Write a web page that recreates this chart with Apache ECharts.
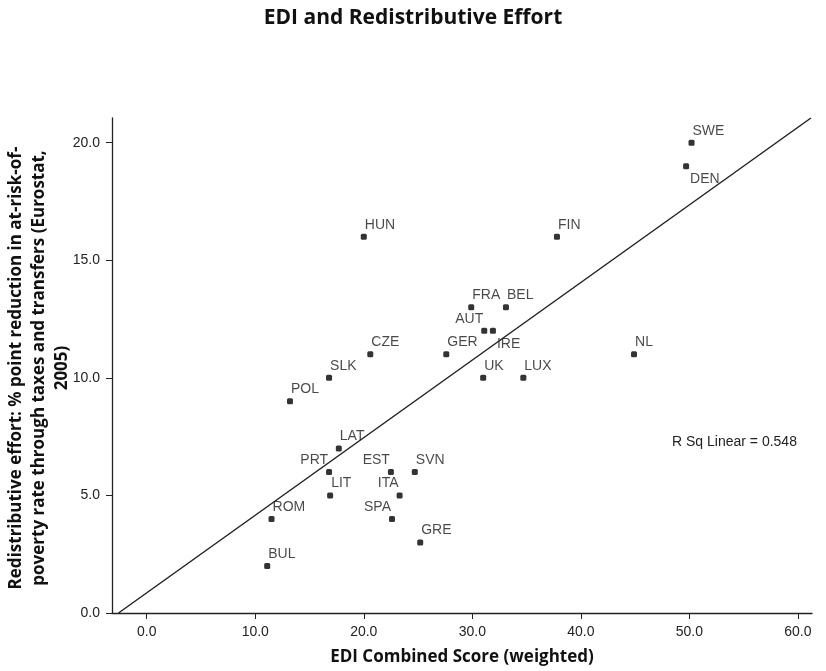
<!DOCTYPE html>
<html lang="en">
<head>
    <meta charset="UTF-8">
    <title>EDI and Redistributive Effort</title>
    <script src="https://cdn.jsdelivr.net/npm/echarts@6/dist/echarts.min.js"></script>
    <style>
        html, body { margin: 0; padding: 0; background: #fff; }
    </style>
</head>
<body>
    <div id="main" style="width: 826px;height:671px;"></div>
    <script type="text/javascript">
        // countries, EDI combined score (x) and redistributive effort (y)
        const countries = ['SWE', 'DEN', 'FIN', 'HUN', 'FRA', 'BEL', 'AUT', 'IRE', 'CZE', 'GER', 'NL',
            'SLK', 'UK', 'LUX', 'POL', 'LAT', 'PRT', 'EST', 'SVN', 'LIT', 'ITA', 'ROM', 'SPA', 'GRE', 'BUL'];
        const ediScore = [50.2, 49.7, 37.8, 20.0, 29.9, 33.1, 31.1, 31.9, 20.6, 27.6, 44.9,
            16.8, 31.0, 34.7, 13.2, 17.7, 16.8, 22.5, 24.7, 16.9, 23.3, 11.5, 22.6, 25.2, 11.1];
        const redistEffort = [20, 19, 16, 16, 13, 13, 12, 12, 11, 11, 11,
            10, 10, 10, 9, 7, 6, 6, 6, 5, 5, 4, 4, 3, 2];

        // fit line (ends at the plot edges)
        const fitX = [-2.6, 61.2];
        const fitY = [0, 21.05];
        const rSquared = 0.548;

        const xTicks = [0, 10, 20, 30, 40, 50, 60];
        const yTicks = [0, 5, 10, 15, 20];

        // which side of the point the label sits on (default top right)
        const labelSide = {PRT: 'tl', EST: 'tl', ITA: 'tl', SPA: 'tl', AUT: 'tl', DEN: 'br', IRE: 'br'};
        const sideStyle = {
            tr: {position: [4, -9], align: 'left'},
            tl: {position: [2, -9], align: 'right'},
            br: {position: [7, 16], align: 'left'},
        };

        const points = countries.map((c, i) => {
            let s = sideStyle[labelSide[c] || 'tr'];
            return {
                name: c,
                value: [ediScore[i], redistEffort[i]],
                label: {position: s.position, align: s.align},
            };
        });

        var myChart = echarts.init(document.getElementById('main'));

        const tickFont = {fontFamily: 'Liberation Sans', fontSize: 14, color: '#222'};

        let option = {
            animation: false,
            title: {
                text: 'EDI and Redistributive Effort',
                left: 'center',
                top: 3,
                textStyle: {fontFamily: 'Open Sans', fontWeight: 'bold', fontSize: 21, color: '#111'},
            },
            grid: {left: 112, right: 14, top: 118, bottom: 58},
            xAxis: {
                type: 'value',
                min: -3.2,
                max: 61.3,
                name: 'EDI Combined Score (weighted)',
                nameLocation: 'middle',
                nameGap: 36,
                nameTextStyle: {fontFamily: 'Open Sans', fontWeight: 'bold', fontSize: 17, color: '#111'},
                splitLine: {show: false},
                axisLine: {onZero: false, lineStyle: {color: '#222', width: 1.3}},
                axisTick: {length: 6, customValues: xTicks, lineStyle: {color: '#222'}},
                axisLabel: Object.assign({margin: 12, customValues: xTicks, formatter: v => v.toFixed(1)}, tickFont),
            },
            yAxis: {
                type: 'value',
                min: 0,
                max: 21.05,
                splitLine: {show: false},
                axisLine: {show: true, onZero: false, lineStyle: {color: '#222', width: 1.3}},
                axisTick: {show: true, length: 6, customValues: yTicks, lineStyle: {color: '#222'}},
                axisLabel: Object.assign({margin: 12, customValues: yTicks, formatter: v => v.toFixed(1)}, tickFont),
            },
            graphic: [
                {
                    type: 'text',
                    x: 39,
                    y: 368,
                    rotation: Math.PI / 2,
                    style: {
                        text: 'Redistributive effort: % point reduction in at-risk-of-\npoverty rate through taxes and transfers (Eurostat,\n2005)',
                        align: 'center',
                        verticalAlign: 'middle',
                        lineHeight: 23,
                        font: 'bold 17px "Open Sans"',
                        fill: '#111',
                    },
                },
                {
                    type: 'text',
                    x: 672,
                    y: 442,
                    style: {
                        text: 'R Sq Linear = ' + rSquared.toFixed(3),
                        align: 'left',
                        verticalAlign: 'middle',
                        font: '14px "Liberation Sans"',
                        fill: '#222',
                    },
                },
            ],
            series: [
                {
                    name: 'fit',
                    type: 'line',
                    silent: true,
                    symbol: 'none',
                    lineStyle: {color: '#222', width: 1.5},
                    data: fitX.map((x, i) => [x, fitY[i]]),
                },
                {
                    name: 'countries',
                    type: 'scatter',
                    symbol: 'roundRect',
                    symbolSize: 6,
                    itemStyle: {color: '#000'},
                    label: {
                        show: true,
                        formatter: p => p.name,
                        verticalAlign: 'middle',
                        fontFamily: 'Liberation Sans',
                        fontSize: 14,
                        color: '#1a1a1a',
                    },
                    data: points,
                },
            ],
        };

        myChart.setOption(option);
    </script>
</body>
</html>
